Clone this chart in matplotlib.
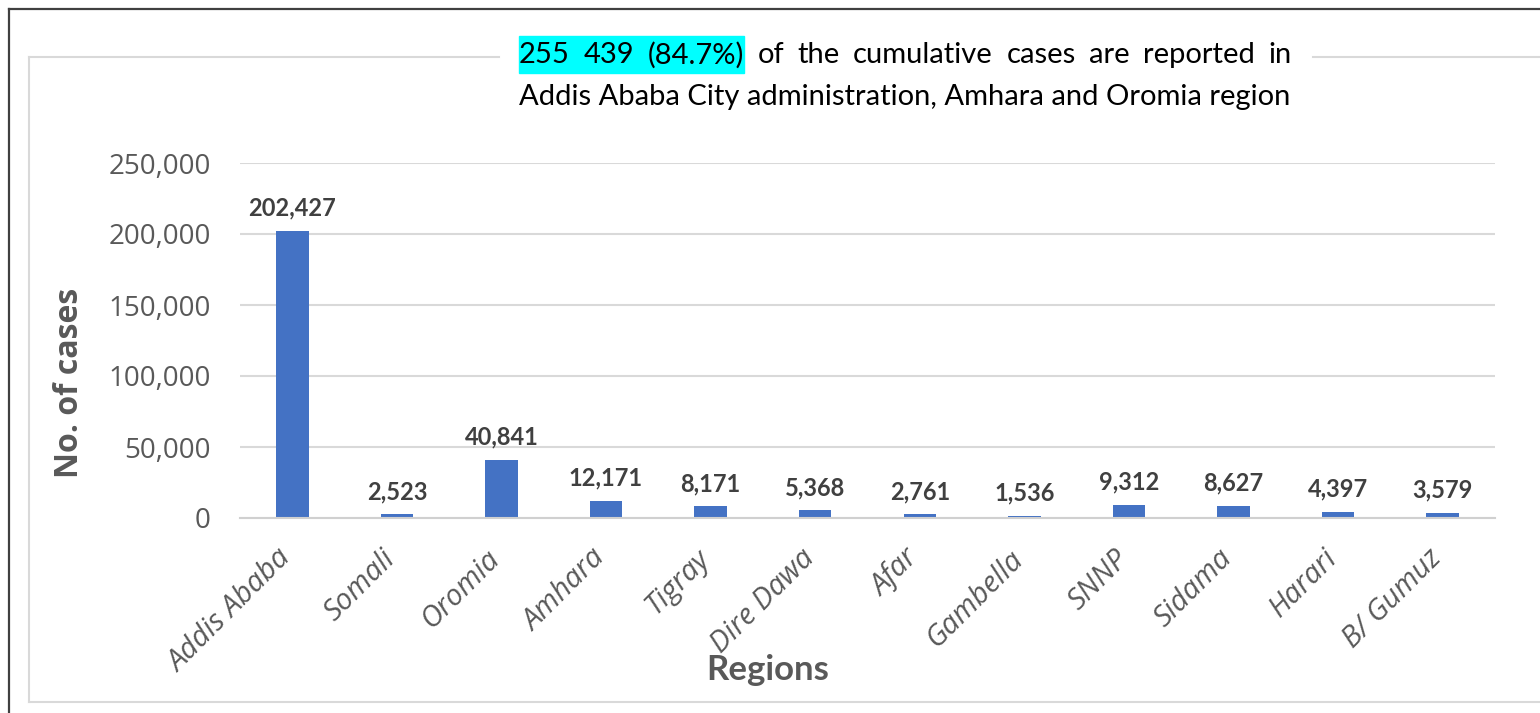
import matplotlib
matplotlib.use("Agg")
import matplotlib.pyplot as plt
from matplotlib.lines import Line2D
from matplotlib.patches import Rectangle

regions = ["Addis Ababa", "Somali", "Oromia", "Amhara", "Tigray", "Dire Dawa",
           "Afar", "Gambella", "SNNP", "Sidama", "Harari", "B/ Gumuz"]
cases = [202427, 2523, 40841, 12171, 8171, 5368, 2761, 1536, 9312, 8627, 4397, 3579]
yticks = [0, 50000, 100000, 150000, 200000, 250000]

title_line1 = "255 439 (84.7%) of the cumulative cases are reported in"
title_line2 = "Addis Ababa City administration, Amhara and Oromia region"
highlight_words = 3

W, H = 1540, 713
fig = plt.figure(figsize=(W / 100, H / 100), dpi=100)


def fx(px):
    return px / W


def fy(py):
    return 1 - py / H


# frame lines
grey_box = "#D9D9D9"
fig.add_artist(Line2D([fx(9), fx(1540)], [fy(9), fy(9)], color="#404040", lw=1.6))
fig.add_artist(Line2D([fx(9), fx(9)], [fy(9), fy(713)], color="#404040", lw=1.6))
fig.add_artist(Line2D([fx(29), fx(499)], [fy(57), fy(57)], color=grey_box, lw=1.5))
fig.add_artist(Line2D([fx(1313), fx(1540)], [fy(57), fy(57)], color=grey_box, lw=1.5))
fig.add_artist(Line2D([fx(29), fx(29)], [fy(57), fy(702)], color=grey_box, lw=1.5))
fig.add_artist(Line2D([fx(29), fx(1540)], [fy(702), fy(702)], color=grey_box, lw=1.5))

ax = fig.add_axes([fx(240), fy(518), fx(1495) - fx(240), fy(163) - fy(518)])
x = list(range(len(regions)))
ax.bar(x, cases, width=0.31, color="#4472C4", zorder=3)
ax.set_xlim(-0.5, len(regions) - 0.5)
ax.set_ylim(0, 250000)
ax.set_yticks(yticks)
ax.set_yticklabels([f"{v:,}" for v in yticks], fontsize=20, color="#595959",
                   family="Open Sans")
ax.set_xticks(x)
ax.set_xticklabels(regions, rotation=45, ha="right", va="baseline", rotation_mode="anchor",
                   fontsize=21, color="#595959", family="Open Sans", style="italic")
ax.tick_params(axis="y", length=0, pad=21)
ax.tick_params(axis="x", length=0, pad=30)
ax.grid(axis="y", color=grey_box, lw=1.5, zorder=0)
for s in ["top", "right", "left"]:
    ax.spines[s].set_visible(False)
ax.spines["bottom"].set_color("#D0D0D0")
ax.spines["bottom"].set_linewidth(1.5)
ax.spines["bottom"].set_zorder(4)

for xi, v in zip(x, cases):
    ax.annotate(f"{v:,}", (xi, v), xytext=(0, 8), textcoords="offset points",
                ha="center", va="bottom", fontsize=17, fontweight="bold",
                color="#404040", family="Lato")

fig.text(fx(70), fy(383), "No. of cases", rotation=90, ha="center", va="center",
         fontsize=23, fontweight="bold", color="#595959", family="Open Sans")
fig.text(fx(768), fy(670), "Regions", ha="center", va="center",
         fontsize=25, fontweight="bold", color="#595959", family="Lato")

# justified title box
left_px, right_px = 519, 1292
fig.canvas.draw()
renderer = fig.canvas.get_renderer()
size = 20
probe = fig.text(0, 0, title_line2, fontsize=size, family="Lato")
w2 = probe.get_window_extent(renderer).width
size = size * (right_px - left_px) / w2
probe.remove()

fig.text(fx(left_px), fy(97), title_line2, fontsize=size, family="Lato",
         ha="left", va="center", color="black")

words = title_line1.split()
arts = [fig.text(0, fy(55), wd, fontsize=size, family="Lato", ha="left",
                 va="center", color="black", zorder=5) for wd in words]
widths = [a.get_window_extent(renderer).width for a in arts]
gap = ((right_px - left_px) - sum(widths)) / (len(words) - 1)
pos = left_px
starts = []
for a, w in zip(arts, widths):
    a.set_x(fx(pos))
    starts.append(pos)
    pos += w + gap
hl_right = starts[highlight_words - 1] + widths[highlight_words - 1]
fig.add_artist(Rectangle((fx(left_px), fy(73)), fx(hl_right - left_px), fy(36) - fy(73),
                         transform=fig.transFigure, color="#00FFFF", zorder=1))

fig.savefig("out.png", dpi=100)
